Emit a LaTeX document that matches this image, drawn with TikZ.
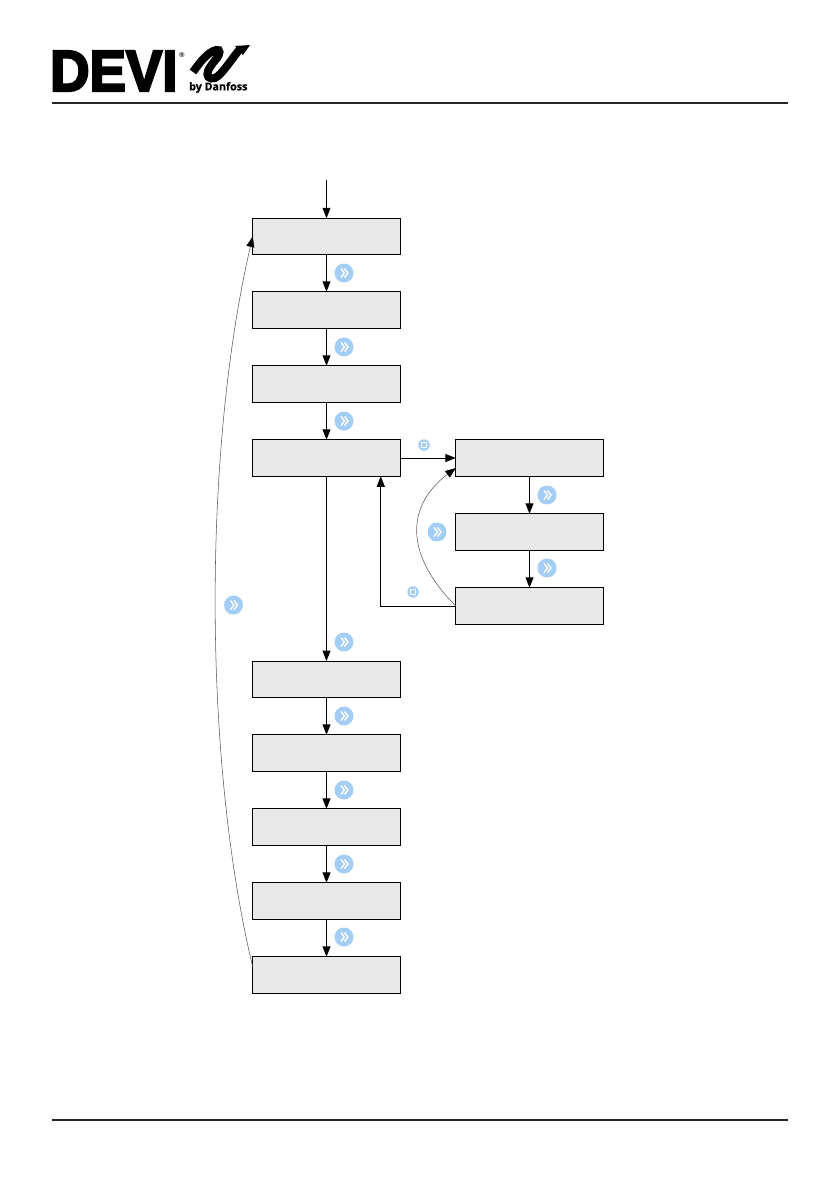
\documentclass[tikz,border=0pt]{standalone}
\usepackage{fontspec}
\setmainfont{Liberation Sans}
\newfontfamily\logofont[UprightFont={* Bold},FakeBold=4]{Liberation Sans}
\newfontfamily\subfont[FakeBold=1]{Open Sans}
\usetikzlibrary{arrows.meta}
\definecolor{boxfill}{HTML}{E8E8E8}
\definecolor{iconblue}{HTML}{A3CDF5}
\tikzset{
  x=1pt,y=-1pt,
  flowbox/.style={draw=black,fill=boxfill,line width=1pt,minimum width=147.5pt,minimum height=36.5pt,inner sep=0pt,outer sep=0pt},
  link/.style={draw=black,line width=1pt,-{Triangle[length=10.5pt,width=8pt]}},
  curvelink/.style={draw=black!65,line width=0.55pt,-{Triangle[length=10.5pt,width=8pt,color=black,fill=black]}},
  nexticon/.style={circle,fill=iconblue,minimum size=19pt,inner sep=0pt,
    path picture={
      \draw[white,line width=1.4pt,line join=miter]
        ([xshift=-3pt,yshift=4.5pt]path picture bounding box.center) -- ++(3.5pt,-4.5pt) -- ++(-3.5pt,-4.5pt);
      \draw[white,line width=1.4pt,line join=miter]
        ([xshift=0.5pt,yshift=4.5pt]path picture bounding box.center) -- ++(3.5pt,-4.5pt) -- ++(-3.5pt,-4.5pt);
    }},
  stopicon/.style={circle,fill=iconblue,minimum size=11.5pt,inner sep=0pt,
    path picture={
      \draw[white,line width=0.7pt,fill=iconblue]
        ([xshift=-2.4pt,yshift=-2.4pt]path picture bounding box.center) rectangle ++(4.8pt,4.8pt);
    }},
  rulebar/.style={draw=black!85,line width=2.2pt}
}
\begin{document}
\begin{tikzpicture}
\useasboundingbox (0,0) rectangle (839,1191);
% header
\node[anchor=west,inner sep=0pt,xscale=0.94] (devi) at (50,71) {\fontsize{58}{58}\logofont DEVI};
\node[inner sep=0pt] (reg) at (182,55) {\fontsize{7}{7}\selectfont\textbf{®}};
\draw[black,line width=8pt] (193,72) .. controls (200,62) and (208,52) .. (216,50)
  .. controls (221,49) and (220,54) .. (217,58)
  .. controls (212,64) and (209,68) .. (208,71)
  .. controls (206,76) and (209,80) .. (215,78)
  .. controls (222,75) and (232,58) .. (241,48);
\fill[black] (235,46) -- (250,45) -- (243,55) -- cycle;
\node[anchor=west,inner sep=0pt] (by) at (189,87.5) {\fontsize{10.7}{10.7}\subfont\textbf{by Danfoss}};
\coordinate (rta) at (52,102.6); \coordinate (rtb) at (788,102.6);
\draw[rulebar] (rta) -- (rtb);
\coordinate (rba) at (52,1120); \coordinate (rbb) at (788,1120);
\draw[rulebar] (rba) -- (rbb);
% boxes
\node[flowbox] (a1) at (326.5,236.5) {};
\node[flowbox] (a2) at (326.5,310) {};
\node[flowbox] (a3) at (326.5,384) {};
\node[flowbox] (a4) at (326.5,458) {};
\node[flowbox] (a5) at (326.5,679.3) {};
\node[flowbox] (a6) at (326.5,753) {};
\node[flowbox] (a7) at (326.5,827) {};
\node[flowbox] (a8) at (326.5,901) {};
\node[flowbox] (a9) at (326.5,975) {};
\node[flowbox] (b1) at (529.5,458) {};
\node[flowbox] (b2) at (529.5,532) {};
\node[flowbox] (b3) at (529.5,606) {};
% connectors
\coordinate (start) at (326.5,180);
\draw[link] (start) -- (a1.north);
\draw[link] (a1) -- (a2);
\draw[link] (a2) -- (a3);
\draw[link] (a3) -- (a4);
\draw[link] (a4) -- (a5);
\draw[link] (a5) -- (a6);
\draw[link] (a6) -- (a7);
\draw[link] (a7) -- (a8);
\draw[link] (a8) -- (a9);
\draw[link] (b1) -- (b2);
\draw[link] (b2) -- (b3);
\draw[link] (a4.east) -- (b1.west);
\draw[link] (b3.west) -| ([xshift=-19.5pt]a4.south east);
\draw[curvelink] (b3.west) .. controls (403,553) and (407,505) .. ([yshift=-10pt]b1.west);
\draw[curvelink] ([yshift=8pt]a9.west) .. controls (203,760) and (203,450) .. (a1.west);
% icons
\node[nexticon] (n1) at (344,273) {};
\node[nexticon] (n2) at (344,347) {};
\node[nexticon] (n3) at (344,421) {};
\node[nexticon] (n4) at (344,642) {};
\node[nexticon] (n5) at (344,716) {};
\node[nexticon] (n6) at (344,790) {};
\node[nexticon] (n7) at (344,864) {};
\node[nexticon] (n8) at (344,937) {};
\node[nexticon] (n9) at (547,495) {};
\node[nexticon] (n10) at (547,568) {};
\node[nexticon] (n11) at (437,532) {};
\node[nexticon] (n12) at (233.5,605) {};
\node[stopicon] (s1) at (424,445) {};
\node[stopicon] (s2) at (413,592) {};
\end{tikzpicture}
\end{document}
